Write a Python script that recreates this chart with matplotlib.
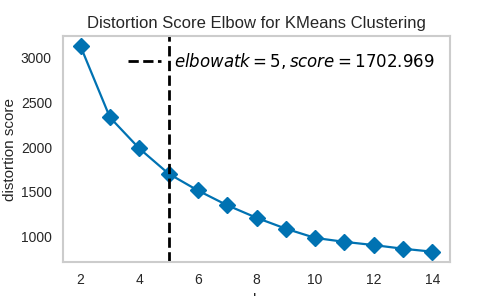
import matplotlib
matplotlib.use("Agg")
import matplotlib.pyplot as plt

# k values and distortion scores
k_values = [2, 3, 4, 5, 6, 7, 8, 9, 10, 11, 12, 13, 14]
scores = [3125, 2332, 1985, 1702.969, 1515, 1350, 1210, 1088, 985, 941, 905, 864, 831]
elbow_k = 5
elbow_score = 1702.969

plt.rcParams['font.family'] = ['Liberation Sans', 'DejaVu Sans']
plt.rcParams['mathtext.fontset'] = 'dejavusans'

fig = plt.figure(figsize=(5, 2.96), dpi=100)
ax = fig.add_axes([0.126, 0.115, 0.774, 0.763])

ax.plot(k_values, scores, marker='D', color='#0072B2', lw=1.6, markersize=8.5)
ax.axvline(elbow_k, c='black', linestyle='--', lw=2,
           label=f'$elbow at k={elbow_k}, score={elbow_score:.3f}$')

ax.set_title('Distortion Score Elbow for KMeans Clustering', fontsize=12, color='#262626')
ax.set_xlabel('k', fontsize=11, color='#262626')
ax.set_ylabel('distortion score', fontsize=11, color='#262626')
ax.yaxis.set_label_coords(-0.12, 0.5)
ax.set_xticks([2, 4, 6, 8, 10, 12, 14])
ax.set_yticks([1000, 1500, 2000, 2500, 3000])
ax.tick_params(labelsize=10, colors='#262626', length=0, pad=8)
for s in ax.spines.values():
    s.set_color('#cccccc')
    s.set_linewidth(1.5)
ax.grid(False)
ax.legend(loc='best', frameon=False, fontsize=12, handlelength=2.0)

fig.savefig('out.png', dpi=100)
